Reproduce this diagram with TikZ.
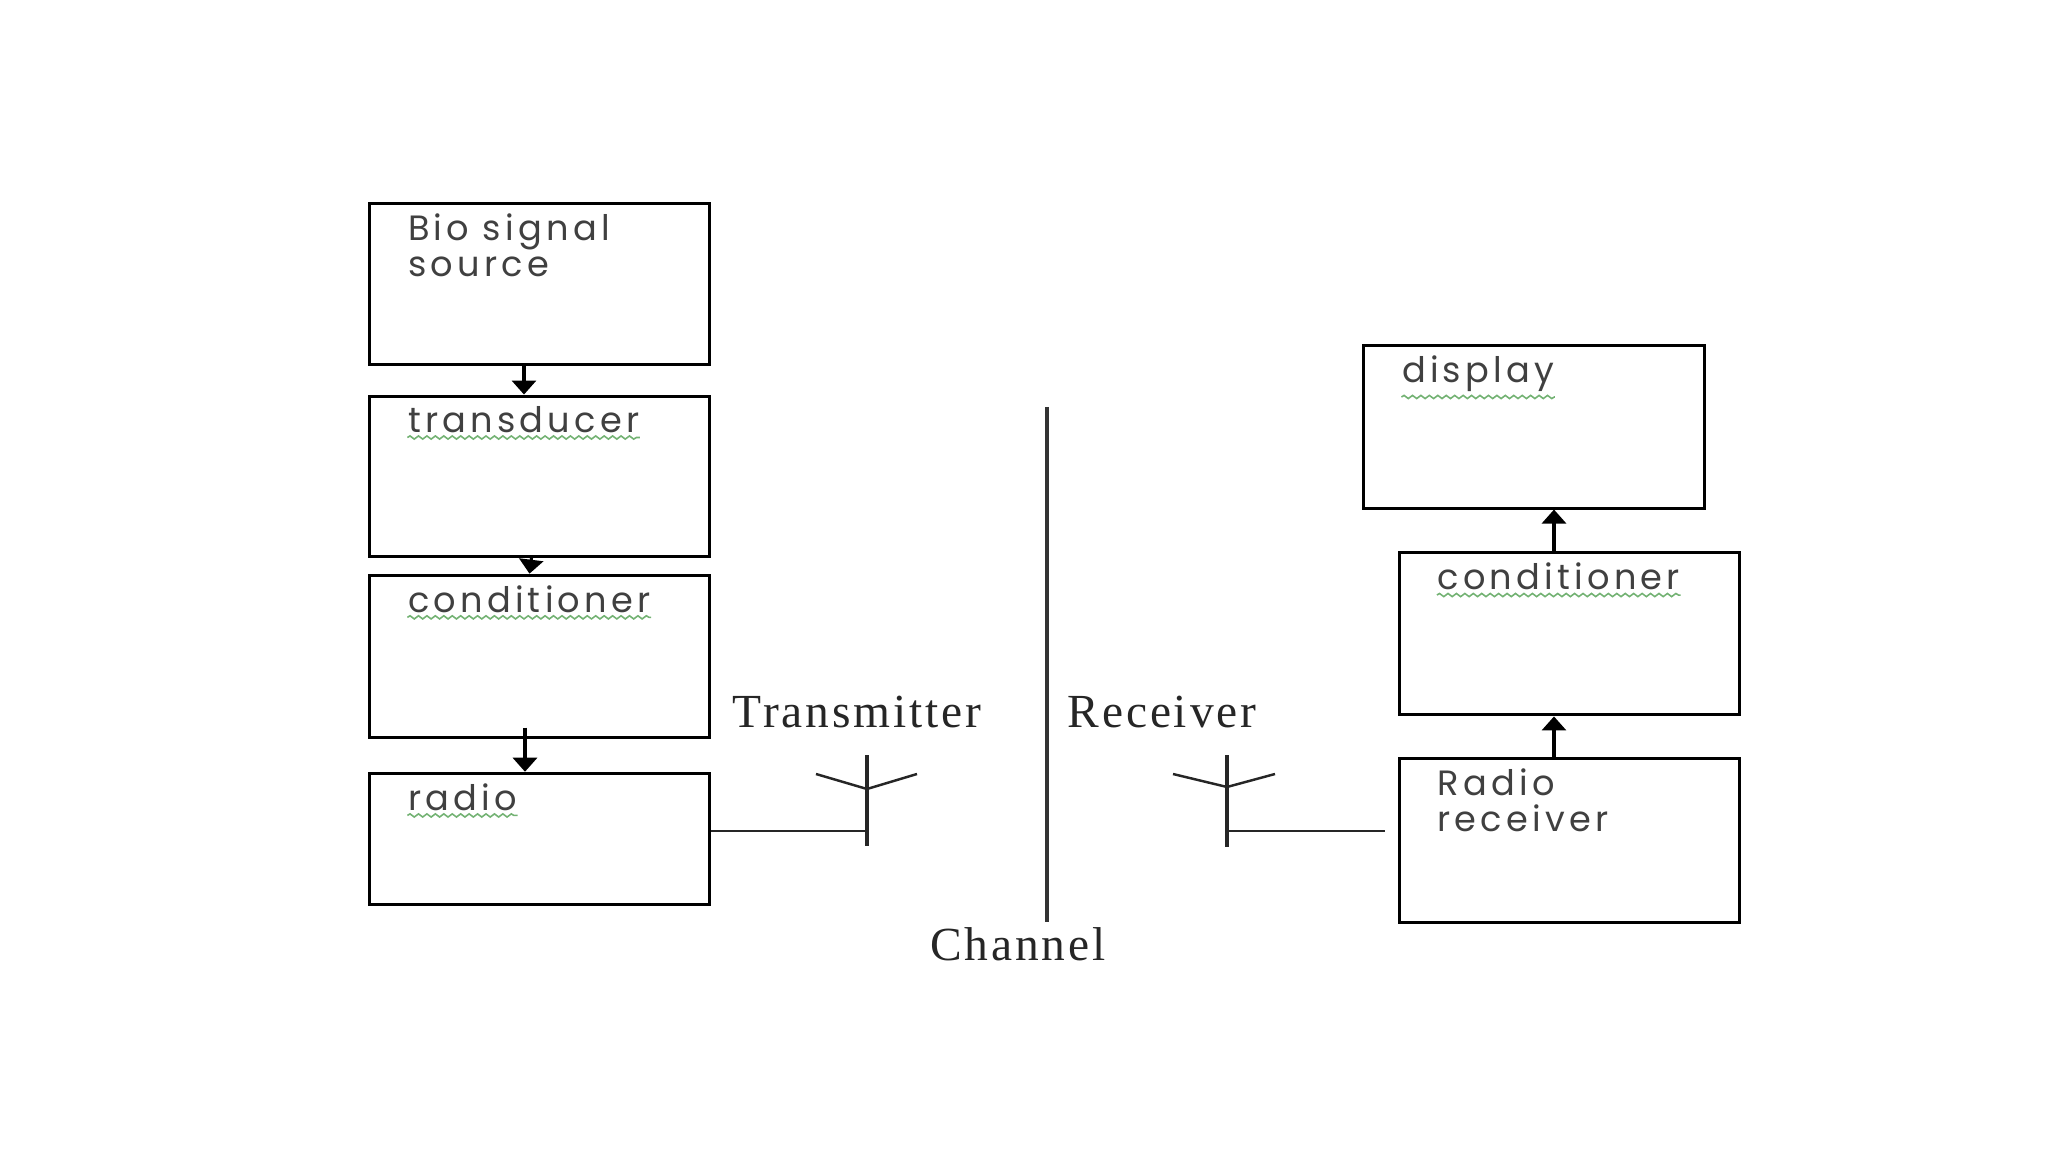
\documentclass[tikz,border=0pt]{standalone}
\usepackage{fontspec}
\setmainfont{Liberation Serif}
\newfontfamily\boxfont[LetterSpace=12]{Poppins}
\usetikzlibrary{positioning, arrows.meta, decorations.pathmorphing}

\tikzset{
    block/.style={draw, line width=0.85pt, minimum width=3.39cm, minimum height=1.6cm, inner sep=0pt},
    blocktext/.style={anchor=north west, inner sep=0pt, align=left, text=black!75,
        font=\boxfont\fontsize{10}{10}\selectfont},
    flow/.style={-{Triangle[length=1.4mm, width=2.4mm]}, line width=0.9pt},
    wire/.style={line width=0.7pt, black!85},
    side/.style={font=\addfontfeature{LetterSpace=6}\fontsize{13.5}{16}\selectfont, text=black!85},
    squiggle/.style={green!45!black!55, line width=0.45pt, decorate,
        decoration={snake, amplitude=0.45pt, segment length=2.4pt}}
}

\begin{document}
\begin{tikzpicture}[x=0.01cm, y=-0.01cm]
    \useasboundingbox (0,0) rectangle (2048,1152);

    % transmitter side
    \node [block] (bio) at (539.5,284) {};
    \node [block, below=0.29cm of bio] (trans) {};
    \node [block, below=0.16cm of trans, minimum height=1.62cm] (condtx) {};
    \node [block, below=0.33cm of condtx, minimum height=1.31cm] (radio) {};

    % receiver side
    \node [block, minimum width=3.4cm, minimum height=1.63cm] (rxradio) at (1569.5,840.5) {};
    \node [block, above=0.41cm of rxradio, minimum width=3.4cm, minimum height=1.62cm] (condrx) {};
    \node [block, minimum width=3.4cm, minimum height=1.62cm] (disp) at (1534,427) {};

    % box texts
    \node [blocktext] (tbio) at ([shift={(39,11)}]bio.north west) {Bio signal\\source};
    \node [blocktext] (ttrans) at ([shift={(39,11)}]trans.north west) {transducer};
    \node [blocktext] (tcondtx) at ([shift={(39,11)}]condtx.north west) {conditioner};
    \node [blocktext] (tradio) at ([shift={(39,11)}]radio.north west) {radio};
    \node [blocktext] (tdisp) at ([shift={(39,11)}]disp.north west) {display};
    \node [blocktext] (tcondrx) at ([shift={(39,11)}]condrx.north west) {conditioner};
    \node [blocktext] (trxradio) at ([shift={(39,11)}]rxradio.north west) {Radio\\receiver};

    % spell-check underlines
    \foreach \t in {ttrans, tcondtx, tradio, tdisp, tcondrx}
        \draw [squiggle] ([yshift=-1.2pt]\t.south west) -- ([yshift=-1.2pt]\t.south east);

    % signal flow
    \draw [flow] ([xshift=-0.155cm]bio.south) -- ([xshift=-0.155cm]trans.north);
    \draw [flow] ([xshift=-0.08cm]trans.south) -- ([xshift=-0.1cm]condtx.north);
    \draw [flow] ([xshift=-0.145cm, yshift=0.11cm]condtx.south) -- ([xshift=-0.145cm]radio.north);
    \coordinate (up1) at ([xshift=-0.155cm]rxradio.north);
    \coordinate (up2) at ([xshift=-0.155cm]condrx.north);
    \draw [flow] (up1) -- (up1 |- condrx.south);
    \draw [flow] (up2) -- (up2 |- disp.south);

    % antennas
    \coordinate (txtop) at (867,755);
    \coordinate (txbot) at (867,846);
    \coordinate (txjoin) at (867,789);
    \coordinate (txfeed) at (867,831);
    \draw [wire, line width=0.9pt] (txtop) -- (txbot);
    \draw [wire] (816,774) -- (txjoin) -- (917,774);
    \draw [wire] (radio.east |- txfeed) -- (txfeed);

    \coordinate (rxtop) at (1227,755);
    \coordinate (rxbot) at (1227,847);
    \coordinate (rxjoin) at (1227,787);
    \coordinate (rxfeed) at (1227,831);
    \coordinate (rxend) at (1385,831);
    \draw [wire, line width=0.9pt] (rxtop) -- (rxbot);
    \draw [wire] (1173,774) -- (rxjoin) -- (1275,774);
    \draw [wire] (rxfeed) -- (rxend);

    % channel
    \coordinate (chtop) at (1047,407);
    \coordinate (chbot) at (1047,922);
    \draw [line width=0.9pt, black!80] (chtop) -- (chbot);

    \node [side] (ltx) at (857,712) {Transmitter};
    \node [side] (lrx) at (1162,712) {Receiver};
    \node [side] (lch) at (1018,944) {Channel};
\end{tikzpicture}
\end{document}
